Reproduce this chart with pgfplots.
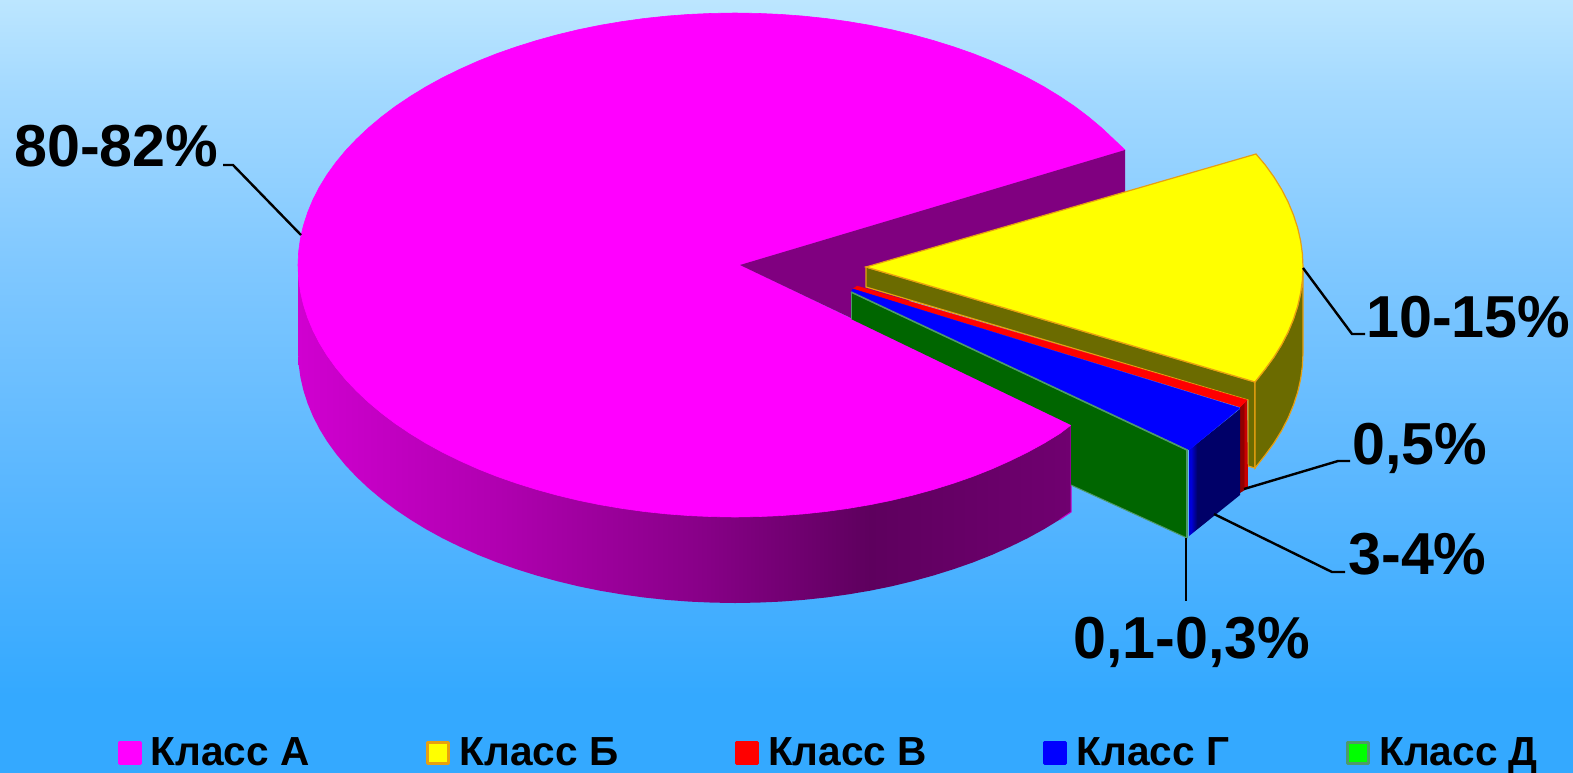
\documentclass[border=0pt]{standalone}
\usepackage{pgfplots}
\pgfplotsset{compat=1.18}
\usepackage{fontspec}
\setmainfont{Liberation Sans}
\definecolor{bgA}{HTML}{BCE6FF}
\definecolor{bgB}{HTML}{A3D9FF}
\definecolor{bgC}{HTML}{80C8FF}
\definecolor{bgD}{HTML}{58B6FF}
\definecolor{bgE}{HTML}{34A9FF}
\definecolor{msA}{HTML}{D000D0}
\definecolor{msB}{HTML}{B000B0}
\definecolor{msC}{HTML}{880088}
\definecolor{msD}{HTML}{5E005E}
\definecolor{msE}{HTML}{700070}
\definecolor{notch}{HTML}{800080}
\definecolor{olive}{HTML}{6B6B00}
\definecolor{orangeedge}{HTML}{E8A010}
\definecolor{darkgreen}{HTML}{006600}
\definecolor{greenedge}{HTML}{4F9A6A}
\definecolor{bsA}{HTML}{0000D8}
\definecolor{bsB}{HTML}{000068}
\definecolor{rsA}{HTML}{900000}
\definecolor{rsB}{HTML}{C80000}
\definecolor{pureM}{HTML}{FF00FF}
\definecolor{pureY}{HTML}{FFFF00}
\definecolor{pureR}{HTML}{FF0000}
\definecolor{pureB}{HTML}{0000FF}
\definecolor{pureG}{HTML}{00FF00}
\pgfdeclareverticalshading{bgshade}{100bp}{color(0bp)=(bgE); color(25bp)=(bgE); color(30bp)=(bgE); color(43bp)=(bgD); color(58bp)=(bgC); color(69bp)=(bgB); color(75bp)=(bgA); color(100bp)=(bgA)}
\pgfdeclarehorizontalshading{magside}{100bp}{color(0bp)=(msA); color(25bp)=(msA); color(38bp)=(msB); color(51bp)=(msC); color(62bp)=(msD); color(75bp)=(msE); color(100bp)=(msE)}
\pgfdeclarehorizontalshading{blueside}{100bp}{color(0bp)=(bsA); color(27bp)=(bsA); color(33bp)=(bsB); color(100bp)=(bsB)}
\pgfdeclarehorizontalshading{redside}{100bp}{color(0bp)=(rsA); color(45bp)=(rsA); color(55bp)=(rsB); color(100bp)=(rsB)}
\begin{document}
\begin{tikzpicture}[x=1pt,y=1pt]
\begin{axis}[
  scale only axis, width=786.5pt, height=386pt,
  xmin=0, xmax=1573, ymin=0, ymax=772, y dir=reverse,
  hide axis,
  legend columns=5,
  legend cell align=left,
  legend image code/.code={\draw[#1,line width=1.5pt,line join=round] (0.75pt,-5pt) rectangle (11.25pt,5.5pt);\path (16.5pt,0pt);},
  legend style={at={(axis cs:117.5,753)},anchor=west,draw=none,fill=none,inner sep=0pt,outer sep=0pt,
    font=\bfseries\fontsize{20.3}{21}\selectfont,
    nodes={inner sep=0pt},
    /tikz/every even column/.append style={column sep=58.2pt}},
]
% background
\addplot[forget plot,draw=none,shading=bgshade] coordinates {(0,0)(1573,0)(1573,772)(0,772)} --cycle;
% Class A front wall
\addplot[forget plot,draw=none,shading=magside] coordinates {
(298,265)(735,400)(1071,425)(1071,512)
(1059.7,519.6)(1044,529.2)(1027.4,538.3)(1010,546.8)(991.9,554.9)(973,562.4)(953.5,569.2)(933.4,575.5)(912.7,581.2)(891.6,586.3)(870,590.7)(848.1,594.4)(825.9,597.5)(803.3,599.9)(780.7,601.6)(757.9,602.6)(735,603)
(712.1,602.6)(689.3,601.6)(666.7,599.9)(644.1,597.5)(621.9,594.4)(600,590.7)(578.4,586.3)(557.3,581.2)(536.6,575.5)(516.5,569.2)(497,562.4)(478.1,554.9)(460,546.8)(442.6,538.3)(426,529.2)(410.3,519.6)(395.4,509.6)(381.5,499.1)(368.5,488.2)(356.6,477)(345.6,465.4)(335.8,453.5)(327,441.3)(319.4,428.9)(312.9,416.2)(307.6,403.4)(303.4,390.4)(300.4,377.3)(298.6,364.2)(298,351)} --cycle;
\addplot[forget plot,draw=pureM!80!black,line width=0.5pt] coordinates {(1071,425)(1071,512)(1059.7,519.6)};
% Class A top
\addplot[fill=pureM,draw=pureM,line width=0.3pt] coordinates {
(740,265)(1125,150)(1113.4,139)(1101.5,127.8)(1088.5,116.9)(1074.6,106.4)(1059.7,96.4)(1044,86.8)(1027.4,77.7)(1010,69.2)(991.9,61.1)(973,53.6)(953.5,46.8)(933.4,40.5)(912.7,34.8)(891.6,29.7)(870,25.3)(848.1,21.6)(825.9,18.5)(803.3,16.1)(780.7,14.4)(757.9,13.4)(735,13)
(712.1,13.4)(689.3,14.4)(666.7,16.1)(644.1,18.5)(621.9,21.6)(600,25.3)(578.4,29.7)(557.3,34.8)(536.6,40.5)(516.5,46.8)(497,53.6)(478.1,61.1)(460,69.2)(442.6,77.7)(426,86.8)(410.3,96.4)(395.4,106.4)(381.5,116.9)(368.5,127.8)(356.6,139)(345.6,150.6)(335.8,162.5)(327,174.7)(319.4,187.1)(312.9,199.8)(307.6,212.6)(303.4,225.6)(300.4,238.7)(298.6,251.8)(298,265)
(298.6,278.2)(300.4,291.3)(303.4,304.4)(307.6,317.4)(312.9,330.2)(319.4,342.9)(327,355.3)(335.8,367.5)(345.6,379.4)(356.6,391)(368.5,402.2)(381.5,413.1)(395.4,423.6)(410.3,433.6)(426,443.2)(442.6,452.3)(460,460.8)(478.1,468.9)(497,476.4)(516.5,483.2)(536.6,489.5)(557.3,495.2)(578.4,500.3)(600,504.7)(621.9,508.4)(644.1,511.5)(666.7,513.9)(689.3,515.6)(712.1,516.6)(735,517)
(757.9,516.6)(780.7,515.6)(803.3,513.9)(825.9,511.5)(848.1,508.4)(870,504.7)(891.6,500.3)(912.7,495.2)(933.4,489.5)(953.5,483.2)(973,476.4)(991.9,468.9)(1010,460.8)(1027.4,452.3)(1044,443.2)(1059.7,433.6)(1071,425)} --cycle;
\addlegendentry{Класс А}
% Class A notch wall
\addplot[forget plot,fill=notch,draw=none] coordinates {(740,265)(1125,150)(1125,236)(851,318)} --cycle;
% Class B walls
\addplot[forget plot,fill=olive,draw=orangeedge,line width=0.6pt] coordinates {(866,267)(1255,382)(1255,468)(1248,466)(1248,400)(866,287)} --cycle;
\addplot[forget plot,fill=olive,draw=orangeedge,line width=0.6pt] coordinates {(1303,267)(1302.4,280.1)(1300.6,293.2)(1297.6,306.3)(1293.4,319.2)(1288.1,332)(1281.6,344.6)(1274,356.9)(1265.2,369)(1255,382)(1255,468)(1265.2,455)(1274,442.9)(1281.6,430.6)(1288.1,418)(1293.4,405.2)(1297.6,392.3)(1300.6,379.2)(1302.4,366.1)(1303,353)} --cycle;
% Class B top
\addplot[fill=pureY,draw=orangeedge,line width=0.6pt] coordinates {(866,267)(1256,154)(1265.2,164.9)(1274,177.1)(1281.6,189.4)(1288.1,202)(1293.4,214.8)(1297.6,227.7)(1300.6,240.8)(1302.4,253.9)(1303,267)(1302.4,280.1)(1300.6,293.2)(1297.6,306.3)(1293.4,319.2)(1288.1,332)(1281.6,344.6)(1274,356.9)(1265.2,369)(1255,382)} --cycle;
\addlegendentry{Класс Б}
% Class V
\addplot[forget plot,draw=none,shading=redside] coordinates {(1240,407)(1247,400)(1248,488)(1240,493)} --cycle;
\addplot[fill=pureR,draw=pureR,line width=0.2pt] coordinates {(857,286)(1247,400)(1240,407)(853,289)} --cycle;
\addlegendentry{Класс В}
% Class G
\addplot[forget plot,draw=none,shading=blueside] coordinates {(1240,409)(1189,450)(1189,536)(1240,495)} --cycle;
\addplot[fill=pureB,draw=pureB,line width=0.2pt] coordinates {(853,289)(1240,408)(1189,450)(851,292)} --cycle;
\addlegendentry{Класс Г}
% Class D wall
\addplot[forget plot,fill=darkgreen,draw=none] coordinates {(851,292)(1187,450)(1187,538)(1071,485)(1071,425)(851,319)} --cycle;
\addplot[forget plot,draw=greenedge,line width=0.5pt] coordinates {(1071,485)(1187,538)};
\addplot[forget plot,draw=greenedge,line width=0.5pt] coordinates {(851,319)(851,292)};
% Class D top
\addplot[fill=pureG,draw=greenedge,line width=0.8pt] coordinates {(851,292)(1187,450)(1187,538)(1187,450)} --cycle;
\addlegendentry{Класс Д}
% leaders
\addplot[forget plot,black,line width=1.2pt] coordinates {(223,165)(233,165)(301,235)};
\addplot[forget plot,black,line width=1.2pt] coordinates {(1303,268)(1352,334)(1365,334)};
\addplot[forget plot,black,line width=1.2pt] coordinates {(1244,489)(1338,461)(1350,461)};
\addplot[forget plot,black,line width=1.2pt] coordinates {(1214,514)(1332,572)(1345,572)};
\addplot[forget plot,black,line width=1.2pt] coordinates {(1186,538)(1186,601)};
% labels
\begin{scope}[every node/.style={inner sep=0pt,anchor=base west,font=\bfseries\fontsize{29.6}{30}\selectfont}]
\node at (axis cs:14,166) {80-82\%};
\node at (axis cs:1366,337) {10-15\%};
\node at (axis cs:1352,464) {0,5\%};
\node at (axis cs:1348,574) {3-4\%};
\node at (axis cs:1073,658) {0,1-0,3\%};
\end{scope}
\end{axis}
\end{tikzpicture}
\end{document}
